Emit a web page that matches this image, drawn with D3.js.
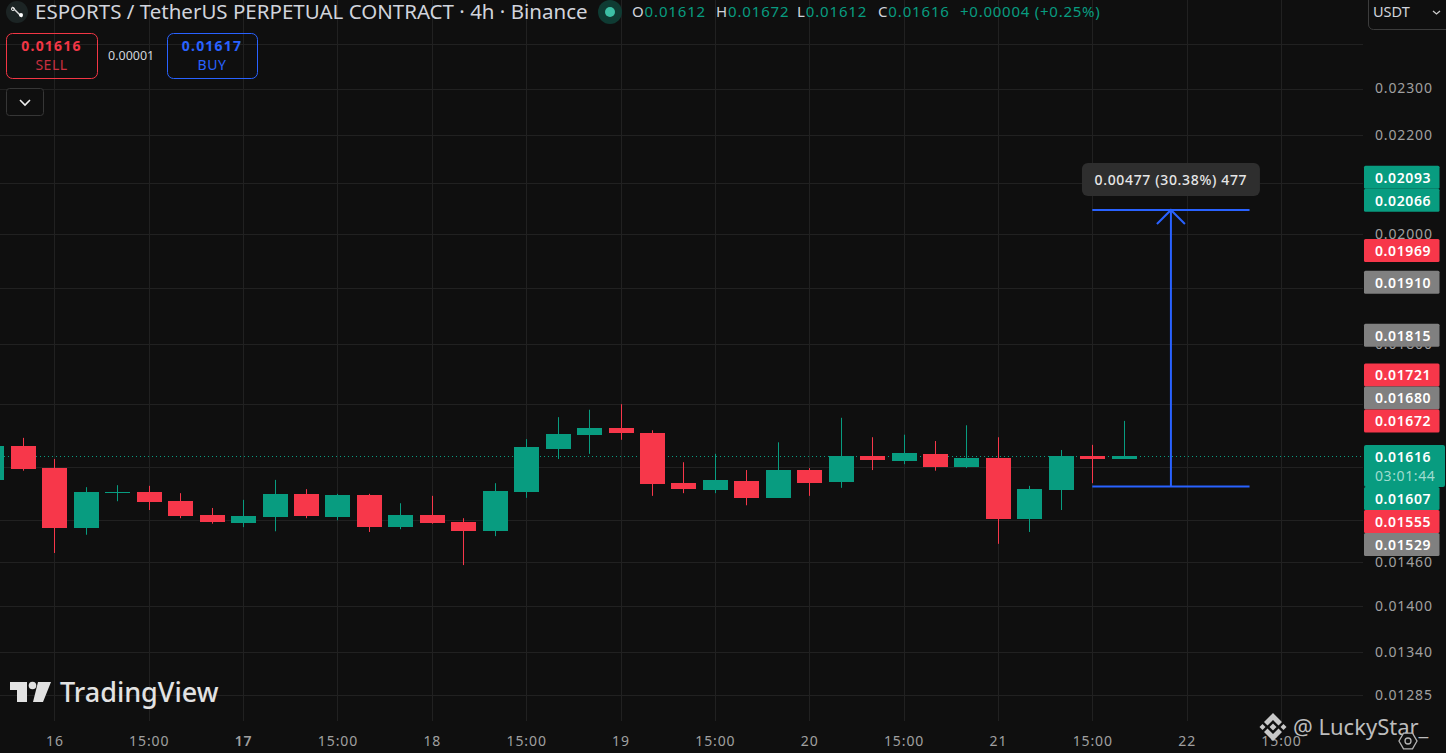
<!DOCTYPE html>
<html>
<head>
<meta charset="utf-8">
<script src="https://cdn.jsdelivr.net/npm/d3@7"></script>
<style>
  html, body { margin: 0; padding: 0; background: #0f0f0f; overflow: hidden; }
  text { font-family: "Noto Sans", sans-serif; }
</style>
</head>
<body>
<svg id="chart" width="1446" height="753"></svg>
<script>
// candle values, index 2 is the "16" session
const opens  = [.01580,.01632,.01598,.01509,.01560,.01562,.01548,.01528,.01516,.01525,.01559,.01525,.01557,.01510,.01528,.01517,.01504,.01562,.01628,.01650,.01661,.01653,.01575,.01565,.01578,.01553,.01595,.01577,.01616,.01609,.01620,.01600,.01614,.01522,.01565,.01616,.01612];
const highs  = [.01632,.01645,.01612,.01569,.01572,.01571,.01560,.01538,.01550,.01580,.01566,.01559,.01559,.01545,.01556,.01523,.01575,.01643,.01678,.01690,.01699,.01657,.01607,.01620,.01595,.01638,.01598,.01677,.01646,.01650,.01640,.01665,.01646,.01571,.01626,.01634,.01672];
const lows   = [.01580,.01594,.01473,.01499,.01548,.01535,.01523,.01515,.01510,.01504,.01523,.01520,.01503,.01507,.01515,.01456,.01497,.01553,.01612,.01620,.01642,.01556,.01560,.01560,.01542,.01553,.01556,.01568,.01595,.01604,.01594,.01598,.01486,.01503,.01535,.01575,.01612];
const closes = [.01632,.01597,.01509,.01562,.01562,.01547,.01526,.01517,.01526,.01559,.01526,.01557,.01510,.01528,.01516,.01504,.01563,.01631,.01651,.01661,.01653,.01574,.01566,.01580,.01553,.01595,.01575,.01616,.01610,.01621,.01600,.01614,.01522,.01566,.01616,.01612,.01616];

const priceTicks = [.023,.022,.021,.02,.019,.018,.017,.016,.0152,.0146,.014,.0134,.01285];
const gridPrices = [.024].concat(priceTicks);
const timeTicks = [2,5,8,11,14,17,20,23,26,29,32,35,38,41];
const timeLabels = ["16","15:00","17","15:00","18","15:00","19","15:00","20","15:00","21","15:00","22","15:00"];

const lastPrice = .01616;
const tagPrices = [.02093,.02066,.01969,.0191,.01815,.01721,.0168,.01672,.01607,.01555,.01529];
const tagKinds  = ["up","up","down","flat","flat","down","flat","down","up","down","flat"];

const measureFrom = .0157, measureTo = .02047, measureStart = 35, measureEnd = 40;

const green = "#089c80", red = "#f7374a", blue = "#2962ff", gray = "#808080";
const tagColor = {up: green, down: red, flat: gray};
const fmt = d3.format(".5f");

const svg = d3.select("#chart");
const x = d3.scaleLinear().domain([2, 41]).range([54.4, 1281]);
const y = d3.scaleLog().domain([.023, .01285]).range([88.5, 695.3]);

// grid
svg.append("g").selectAll("line").data(gridPrices).enter().append("line")
  .attr("x1", 0).attr("x2", 1363)
  .attr("y1", d => Math.round(y(d)) + .5).attr("y2", d => Math.round(y(d)) + .5)
  .attr("stroke", "#212121");
svg.append("g").selectAll("line").data(timeTicks).enter().append("line")
  .attr("x1", d => Math.round(x(d)) + .5).attr("x2", d => Math.round(x(d)) + .5)
  .attr("y1", 0).attr("y2", 721)
  .attr("stroke", "#212121");

// last price line
svg.append("line")
  .attr("x1", 0).attr("x2", 1364)
  .attr("y1", Math.round(y(lastPrice)) + .5).attr("y2", Math.round(y(lastPrice)) + .5)
  .attr("stroke", green).attr("stroke-dasharray", "1 3");

// candles
const candles = svg.append("g").selectAll("g").data(opens.map((o, i) => i)).enter().append("g")
  .attr("fill", i => closes[i] >= opens[i] ? green : red);
candles.append("rect")
  .attr("x", i => Math.round(x(i)))
  .attr("width", 1)
  .attr("y", i => y(highs[i]))
  .attr("height", i => y(lows[i]) - y(highs[i]));
candles.append("rect")
  .attr("x", i => Math.round(x(i)) - 12)
  .attr("width", 25)
  .attr("y", i => Math.round(y(Math.max(opens[i], closes[i]))))
  .attr("height", i => Math.max(1, Math.round(y(Math.min(opens[i], closes[i]))) - Math.round(y(Math.max(opens[i], closes[i])))));

// price axis
const yAxis = svg.append("g").attr("transform", "translate(1375,0)")
  .call(d3.axisRight(y).tickValues(priceTicks).tickFormat(fmt).tickSize(0).tickPadding(0));
yAxis.select(".domain").remove();
yAxis.selectAll("text").attr("fill", "#a0a0a0").style("font-size", "14px").style("letter-spacing", ".85px");

// time axis
const xAxis = svg.append("g").attr("transform", "translate(0,734)")
  .call(d3.axisBottom(x).tickValues(timeTicks).tickFormat((d, i) => timeLabels[i]).tickSize(0).tickPadding(0));
xAxis.select(".domain").remove();
xAxis.selectAll("text").attr("fill", "#a0a0a0").style("font-size", "14px").style("letter-spacing", ".9px").attr("dy", 0).attr("y", 12)
  .style("font-weight", (d, i) => i == 2 ? 600 : 400);

// measure tool
const m = svg.append("g").attr("stroke", blue).attr("stroke-width", 2).attr("fill", "none");
const mMid = (measureStart + measureEnd) / 2;
[measureFrom, measureTo].forEach(p => {
  m.append("line").attr("x1", x(measureStart)).attr("x2", x(measureEnd)).attr("y1", y(p)).attr("y2", y(p));
});
m.append("line").attr("x1", x(mMid)).attr("x2", x(mMid)).attr("y1", y(measureFrom)).attr("y2", y(measureTo));
m.append("path").attr("d", d3.line()([[x(mMid) - 14, y(measureTo) + 14], [x(mMid), y(measureTo)], [x(mMid) + 14, y(measureTo) + 14]]));

svg.append("rect").attr("x", x(mMid) - 89).attr("y", y(measureTo) - 47).attr("width", 178).attr("height", 33)
  .attr("rx", 6).attr("fill", "#2e2e2e");
svg.append("text").attr("x", x(mMid)).attr("y", y(measureTo) - 25).attr("text-anchor", "middle")
  .attr("fill", "#e6e6e6").attr("font-size", 14).attr("font-weight", 500).style("letter-spacing", ".65px")
  .text(`${fmt(measureTo - measureFrom)} (${d3.format(".2f")((measureTo - measureFrom) / measureFrom * 100)}%) ${Math.round((measureTo - measureFrom) * 100000)}`);

// price tags, pushed apart from the last price tag outwards
const tagH = 23;
const tagY = tagPrices.map(p => y(p));
const lastTop = y(lastPrice) - 11.5, lastBottom = lastTop + 42;
let limit = lastTop - tagH / 2;
for (let i = tagPrices.length - 1; i >= 0; i--) {
  if (tagPrices[i] < lastPrice) continue;
  tagY[i] = Math.min(tagY[i], limit);
  limit = tagY[i] - tagH;
}
limit = lastBottom + tagH / 2;
for (let i = 0; i < tagPrices.length; i++) {
  if (tagPrices[i] > lastPrice) continue;
  tagY[i] = Math.max(tagY[i], limit);
  limit = tagY[i] + tagH;
}
const tags = svg.append("g").selectAll("g").data(tagPrices).enter().append("g")
  .attr("transform", (d, i) => `translate(1364,${tagY[i]})`);
tags.append("rect").attr("y", -tagH / 2).attr("width", 75.5).attr("height", tagH).attr("rx", 1.5)
  .attr("fill", (d, i) => tagColor[tagKinds[i]]);
tags.append("text").attr("x", 11).attr("y", 5.5).attr("fill", "#fff").attr("font-size", 14).attr("font-weight", 600)
  .style("letter-spacing", ".6px").text(d => fmt(d));

const lastTag = svg.append("g").attr("transform", `translate(1364,${lastTop})`);
lastTag.append("rect").attr("width", 81).attr("height", 42).attr("rx", 2).attr("fill", green);
lastTag.append("text").attr("x", 11).attr("y", 17).attr("fill", "#fff").attr("font-size", 14).attr("font-weight", 600)
  .style("letter-spacing", ".6px").text(fmt(lastPrice));
lastTag.append("text").attr("x", 11).attr("y", 36).attr("fill", "#9fdccf").attr("font-size", 14)
  .style("letter-spacing", ".6px").text("03:01:44");

// header
svg.append("circle").attr("cx", 17).attr("cy", 12).attr("r", 11).attr("fill", "#1c2424");
svg.append("path").attr("d", "M12 7L22 17").attr("stroke", "#ddd").attr("stroke-width", 1.4);
svg.append("circle").attr("cx", 13).attr("cy", 9).attr("r", 1.6).attr("fill", "none").attr("stroke", "#ddd");
svg.append("circle").attr("cx", 21).attr("cy", 15).attr("r", 2).attr("fill", "#fff");
svg.append("text").attr("x", 35).attr("y", 19).attr("fill", "#d1d4dc").attr("font-size", 20.5)
  .text("ESPORTS / TetherUS PERPETUAL CONTRACT · 4h · Binance");
svg.append("circle").attr("cx", 610).attr("cy", 12).attr("r", 12).attr("fill", "#0f3b33");
svg.append("circle").attr("cx", 610).attr("cy", 12).attr("r", 5).attr("fill", "#3dbfa5");

const ohlcLabels = ["O", "H", "L", "C"];
const ohlcValues = [.01612, .01672, .01612, .01616];
const ohlcX = [632, 716, 797, 878];
ohlcLabels.forEach((l, i) => {
  const t = svg.append("text").attr("x", ohlcX[i]).attr("y", 16.5).attr("font-size", 15).style("letter-spacing", ".85px");
  t.append("tspan").attr("fill", "#d1d4dc").text(l);
  t.append("tspan").attr("fill", green).text(fmt(ohlcValues[i]));
});
svg.append("text").attr("x", 960).attr("y", 16.5).attr("font-size", 15).attr("fill", green)
  .style("letter-spacing", ".75px").text("+0.00004 (+0.25%)");

// sell / buy
function tradeBox(bx, w, col, sub, price, label) {
  svg.append("rect").attr("x", bx + .5).attr("y", 33.5).attr("width", w).attr("height", 45).attr("rx", 6)
    .attr("fill", "none").attr("stroke", col);
  svg.append("text").attr("x", bx + w / 2).attr("y", 51).attr("text-anchor", "middle").attr("fill", col)
    .attr("font-size", 14).attr("font-weight", 700).style("letter-spacing", "1.2px").text(price);
  svg.append("text").attr("x", bx + w / 2).attr("y", 70).attr("text-anchor", "middle").attr("fill", sub)
    .attr("font-size", 14).style("letter-spacing", ".5px").text(label);
}
tradeBox(6, 91, "#f23645", "#c9303f", "0.01616", "SELL");
tradeBox(167, 90, blue, "#2962ff", "0.01617", "BUY");
svg.append("text").attr("x", 108).attr("y", 60).attr("fill", "#d1d4dc").attr("font-size", 12.5).text("0.00001");
svg.append("rect").attr("x", 6.5).attr("y", 88.5).attr("width", 37).attr("height", 27).attr("rx", 3)
  .attr("fill", "#0f0f0f").attr("stroke", "#363636");
svg.append("path").attr("d", "M20 100L25 105L30 100").attr("fill", "none").attr("stroke", "#eee").attr("stroke-width", 1.6);

// currency box
svg.append("path").attr("d", "M1368.5 0V24a5 5 0 0 0 5 5.5H1446").attr("fill", "none").attr("stroke", "#3c3c3c");
svg.append("text").attr("x", 1373).attr("y", 17).attr("fill", "#d1d4dc").attr("font-size", 14.5).text("USDT");
svg.append("path").attr("d", "M1433 11L1436.5 14L1440 11").attr("fill", "none").attr("stroke", "#ccc").attr("stroke-width", 1.3);

// TradingView watermark
const tv = svg.append("g").attr("fill", "#e2e2e2");
tv.append("path").attr("d", "M10 682H27V702H17V690H10Z");
tv.append("circle").attr("cx", 32.5).attr("cy", 685.5).attr("r", 3.8);
tv.append("path").attr("d", "M38 682H51L43 702H33Z");
tv.append("text").attr("x", 60).attr("y", 702).attr("font-size", 27).attr("font-weight", 500).text("TradingView");

// Binance watermark
const bn = svg.append("g").attr("fill", "#c8c8c8");
bn.append("path").attr("d", "M1273 713L1282 722L1278.5 725.5L1273 720L1267.5 725.5L1264 722Z");
bn.append("path").attr("d", "M1273 741L1282 732L1278.5 728.5L1273 734L1267.5 728.5L1264 732Z");
[[1273, 727, 3.5], [1262.5, 727, 3], [1283.5, 727, 3]].forEach(d => {
  bn.append("path").attr("d", `M${d[0]} ${d[1] - d[2]}L${d[0] + d[2]} ${d[1]}L${d[0]} ${d[1] + d[2]}L${d[0] - d[2]} ${d[1]}Z`);
});
svg.append("text").attr("x", 1293).attr("y", 735).attr("fill", "#bdbdbd").attr("font-size", 22).text("@ LuckyStar_");

// settings icon
const hex = d3.range(6).map(i => [1408 + 9 * Math.cos(i * Math.PI / 3), 741 + 9 * Math.sin(i * Math.PI / 3)]);
svg.append("path").attr("d", d3.line().curve(d3.curveLinearClosed)(hex)).attr("fill", "#0f0f0f").attr("stroke", "#b4b4b4").attr("stroke-width", 1.3);
svg.append("circle").attr("cx", 1408).attr("cy", 741).attr("r", 3).attr("fill", "none").attr("stroke", "#b4b4b4").attr("stroke-width", 1.3);
</script>
</body>
</html>
